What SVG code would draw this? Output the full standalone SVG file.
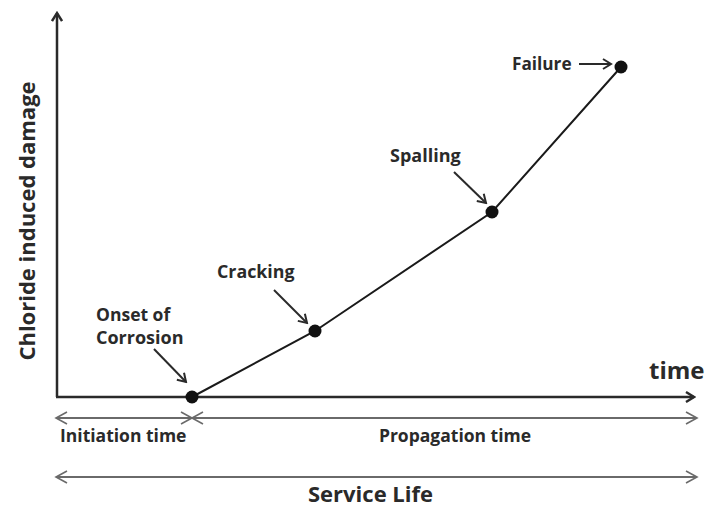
<svg xmlns="http://www.w3.org/2000/svg" width="705" height="510" viewBox="0 0 705 510">
  <defs>
    <style>
      .lbl { font-family: "Open Sans", "Liberation Sans", sans-serif; font-weight: bold; fill: #2a2a2a; }
      .axis { stroke: #2a2a2a; stroke-width: 2.5; fill: none; }
      .curve { stroke: #1a1a1a; stroke-width: 2; fill: none; }
      .pointer { stroke: #2a2a2a; stroke-width: 2; fill: none; }
      .span { stroke: #6a6a6a; stroke-width: 1.8; fill: none; }
      .dot { fill: #111; }
    </style>
    <marker id="axisHead" viewBox="0 0 12 12" refX="10" refY="6" markerWidth="12" markerHeight="12" markerUnits="userSpaceOnUse" orient="auto">
      <path d="M2,1 L10,6 L2,11" fill="none" stroke="#2a2a2a" stroke-width="2.4"/>
    </marker>
    <marker id="pointHead" viewBox="0 0 12 12" refX="10" refY="6" markerWidth="12" markerHeight="12" markerUnits="userSpaceOnUse" orient="auto">
      <path d="M2,1 L10,6 L2,11" fill="none" stroke="#2a2a2a" stroke-width="2"/>
    </marker>
    <marker id="spanHead" viewBox="0 0 14 14" refX="12" refY="7" markerWidth="14" markerHeight="14" markerUnits="userSpaceOnUse" orient="auto-start-reverse">
      <path d="M1,1 L12,7 L1,13" fill="none" stroke="#6a6a6a" stroke-width="1.6"/>
    </marker>
  </defs>

  <rect width="705" height="510" fill="#ffffff"/>

  <g id="connectors">
    <!-- axes -->
    <line class="axis" x1="57" y1="397" x2="57" y2="13" marker-end="url(#axisHead)"/>
    <line class="axis" x1="56" y1="397" x2="694" y2="397" marker-end="url(#axisHead)"/>
    <!-- damage curve -->
    <polyline class="curve" points="192,397 315,331 492,212 621,67"/>
    <!-- label pointers -->
    <line class="pointer" x1="154" y1="349" x2="186" y2="382" marker-end="url(#pointHead)"/>
    <line class="pointer" x1="274" y1="290" x2="307" y2="323" marker-end="url(#pointHead)"/>
    <line class="pointer" x1="454" y1="172" x2="486" y2="203" marker-end="url(#pointHead)"/>
    <line class="pointer" x1="579" y1="64" x2="611" y2="64" marker-end="url(#pointHead)"/>
    <!-- time spans -->
    <line class="span" x1="56" y1="418" x2="192" y2="418" marker-start="url(#spanHead)" marker-end="url(#spanHead)"/>
    <line class="span" x1="192" y1="418" x2="697" y2="418" marker-start="url(#spanHead)" marker-end="url(#spanHead)"/>
    <line class="span" x1="56" y1="477" x2="697" y2="477" marker-start="url(#spanHead)" marker-end="url(#spanHead)"/>
  </g>

  <g id="onset">
    <circle class="dot" cx="192" cy="397" r="6.5"/>
    <text class="lbl" x="96" y="321" font-size="17.5">Onset of</text>
    <text class="lbl" x="96" y="344" font-size="18">Corrosion</text>
  </g>
  <g id="cracking">
    <circle class="dot" cx="315" cy="331" r="6.5"/>
    <text class="lbl" x="217" y="278" font-size="17.8">Cracking</text>
  </g>
  <g id="spalling">
    <circle class="dot" cx="492" cy="212" r="6.5"/>
    <text class="lbl" x="390" y="162" font-size="18">Spalling</text>
  </g>
  <g id="failure">
    <circle class="dot" cx="621" cy="67" r="6.5"/>
    <text class="lbl" x="512" y="70" font-size="17.2">Failure</text>
  </g>

  <g id="axis-labels">
    <text class="lbl" x="649" y="379" font-size="24">time</text>
    <text class="lbl" font-size="22" text-anchor="middle" transform="translate(35,221) rotate(-90)">Chloride induced damage</text>
  </g>

  <g id="span-labels">
    <text class="lbl" x="60" y="442" font-size="17.5">Initiation time</text>
    <text class="lbl" x="455" y="442" font-size="17.5" text-anchor="middle">Propagation time</text>
    <text class="lbl" x="308" y="502" font-size="22">Service Life</text>
  </g>
</svg>
